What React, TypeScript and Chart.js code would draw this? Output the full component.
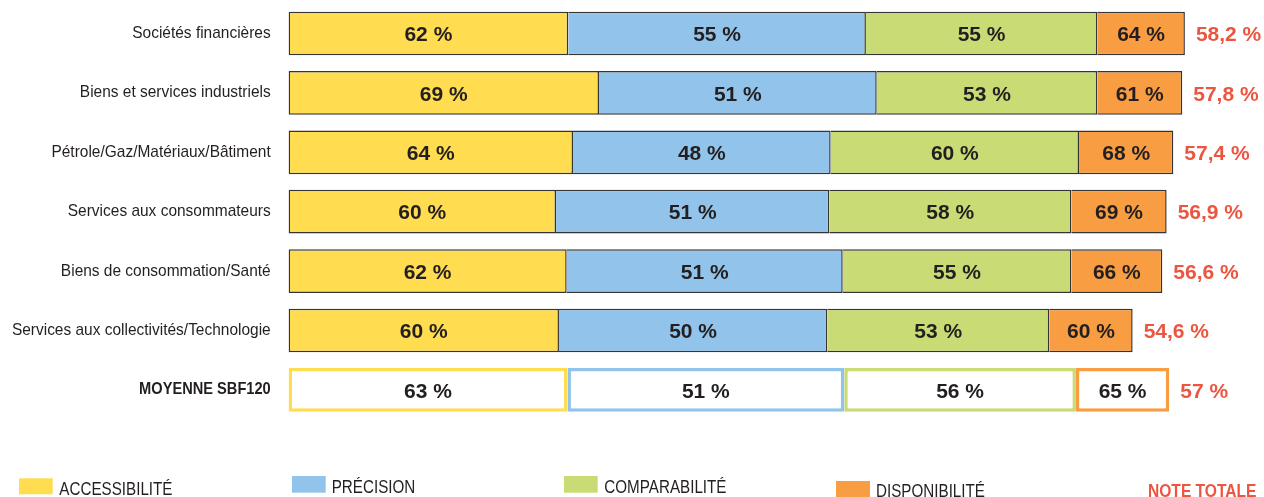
import React, { useEffect, useRef } from "react";
import { Chart, registerables } from "chart.js";

Chart.register(...registerables);

const categories = [
  "Sociétés financières",
  "Biens et services industriels",
  "Pétrole/Gaz/Matériaux/Bâtiment",
  "Services aux consommateurs",
  "Biens de consommation/Santé",
  "Services aux collectivités/Technologie",
  "MOYENNE SBF120",
];

// Scores shown in each segment (%)
const accessibilite = [62, 69, 64, 60, 62, 60, 63];
const precision = [55, 51, 48, 51, 51, 50, 51];
const comparabilite = [55, 53, 60, 58, 55, 53, 56];
const disponibilite = [64, 61, 68, 69, 66, 60, 65];

// Weighted contribution of each criterion to the total note (segment lengths)
const accessibiliteW = [18.1, 20.09, 18.41, 17.31, 18.0, 17.5, 18.05];
const precisionW = [19.26, 17.97, 16.67, 17.68, 17.86, 17.36, 17.91];
const comparabiliteW = [14.97, 14.27, 16.07, 15.66, 14.79, 14.36, 14.99];
const disponibiliteW = [5.67, 5.5, 6.1, 6.17, 5.89, 5.4, 6.04];

// Total note (%)
const totals = [58.2, 57.8, 57.4, 56.9, 56.6, 54.6, 57];

const seriesNames = ["ACCESSIBILITÉ", "PRÉCISION", "COMPARABILITÉ", "DISPONIBILITÉ"];
const totalName = "NOTE TOTALE";

const COLORS = ["#FFDC50", "#92C4EB", "#C8DB74", "#F89D41"];
const RED = "#EC5540";
const DARK = "#231F20";
const EDGE = "#353535";
const FONT = '"Liberation Sans", Arial, sans-serif';

function drawText(
  ctx: CanvasRenderingContext2D,
  text: string,
  x: number,
  y: number,
  font: string,
  color: string,
  align: CanvasTextAlign,
  sx: number
) {
  ctx.save();
  ctx.font = font;
  ctx.fillStyle = color;
  ctx.textAlign = align;
  ctx.textBaseline = "alphabetic";
  ctx.translate(x, y);
  ctx.scale(sx, 1);
  ctx.fillText(text, 0, 0);
  ctx.restore();
}

const fmt = (v: number) => (Number.isInteger(v) ? String(v) : v.toFixed(1).replace(".", ","));

const textPlugin = {
  id: "customText",
  afterDatasetsDraw(chart: any) {
    const ctx: CanvasRenderingContext2D = chart.ctx;
    const scores = [accessibilite, precision, comparabilite, disponibilite];
    const metas = [0, 1, 2, 3].map((i) => chart.getDatasetMeta(i));
    const avgIdx = categories.length - 1;
    categories.forEach((cat, j) => {
      const yc = metas[0].data[j].y;
      const isAvg = j === avgIdx;
      drawText(
        ctx,
        cat,
        270.7,
        yc + 4.5,
        (isAvg ? "bold " : "") + "17px " + FONT,
        DARK,
        "right",
        isAvg ? 0.86 : 0.91
      );
      metas.forEach((m: any, i: number) => {
        const b = m.data[j];
        const cx = (b.x + b.base) / 2;
        drawText(ctx, scores[i][j] + " %", cx, yc + 7.7, "bold 21px " + FONT, DARK, "center", 1);
      });
      const last = metas[3].data[j];
      drawText(ctx, fmt(totals[j]) + " %", last.x + 11, yc + 7.7, "bold 21px " + FONT, RED, "left", 1);
    });

    // Legend
    const legendItems = [
      { box: [19, 478.3, 33.7, 16], tx: 59.3, ty: 494.5 },
      { box: [292, 476, 33.7, 16.7], tx: 331.7, ty: 492.7 },
      { box: [564, 476, 33.7, 16.7], tx: 604.3, ty: 492.5 },
      { box: [836, 481, 34, 16], tx: 876, ty: 497.3 },
    ];
    legendItems.forEach((it, i) => {
      ctx.save();
      ctx.fillStyle = COLORS[i];
      const [bx, by, bw, bh] = it.box;
      ctx.fillRect(bx, by, bw, bh);
      ctx.restore();
      drawText(ctx, seriesNames[i], it.tx, it.ty, "19px " + FONT, DARK, "left", 0.8);
    });
    drawText(ctx, totalName, 1148, 497, "bold 19px " + FONT, RED, "left", 0.82);
  },
};

export default function App() {
  const ref = useRef<HTMLCanvasElement | null>(null);

  useEffect(() => {
    if (!ref.current) return;
    const avgIdx = categories.length - 1;
    const weights = [accessibiliteW, precisionW, comparabiliteW, disponibiliteW];
    const chart = new Chart(ref.current, {
      type: "bar",
      data: {
        labels: categories,
        datasets: weights.map((w, i) => ({
          label: seriesNames[i],
          data: w,
          backgroundColor: (c: any) => (c.dataIndex === avgIdx ? "#FFFFFF" : COLORS[i]),
          borderColor: (c: any) => (c.dataIndex === avgIdx ? COLORS[i] : EDGE),
          borderWidth: (c: any) =>
            c.dataIndex === avgIdx
              ? 3.5
              : { top: 1.5, bottom: 1.5, right: 1.5, left: i === 0 ? 1.5 : 0 },
          borderSkipped: false,
          categoryPercentage: 1,
          barPercentage: 0.735,
        })),
      },
      options: {
        indexAxis: "y",
        responsive: false,
        animation: false,
        maintainAspectRatio: false,
        layout: { padding: { left: 288.5, right: 48.2, top: 3.8, bottom: 77.4 } },
        scales: {
          x: { type: "linear", min: 0, max: 60, stacked: true, display: false },
          y: { stacked: true, display: false },
        },
        plugins: {
          legend: { display: false },
          tooltip: { enabled: false },
          title: { display: false },
        },
      },
      plugins: [textPlugin],
    } as any);
    return () => chart.destroy();
  }, []);

  return (
    <div style={{ position: "absolute", left: 0, top: 0, width: 1264, height: 497, background: "#fff" }}>
      <canvas ref={ref} width={1264} height={497} style={{ display: "block" }} />
    </div>
  );
}
